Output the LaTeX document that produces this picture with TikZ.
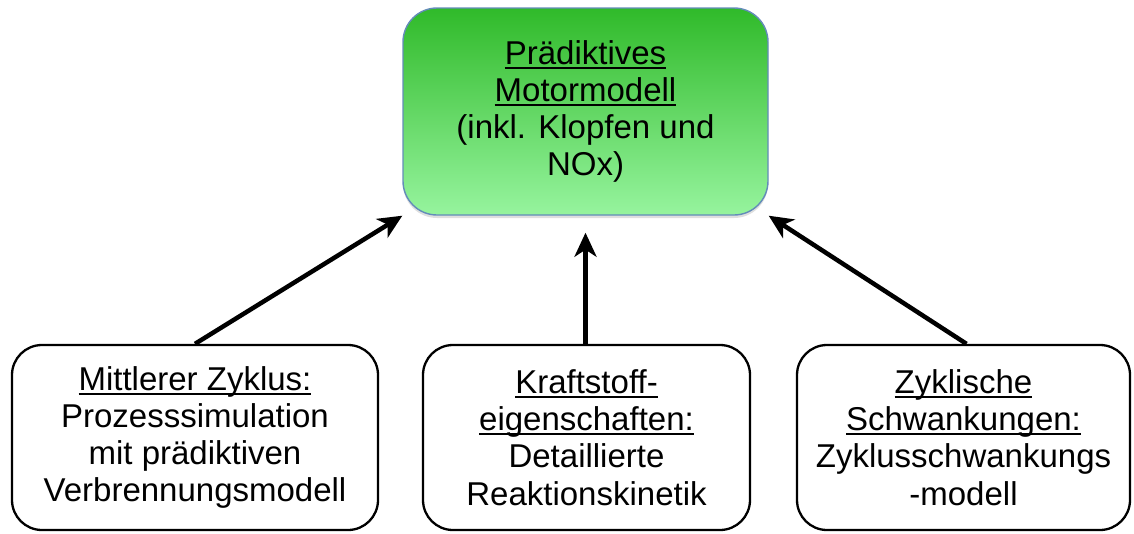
\documentclass[tikz,border=0pt]{standalone}
\usepackage{fontspec}
\setmainfont{Liberation Sans}
\usetikzlibrary{arrows.meta,shadows}
\definecolor{gtop}{RGB}{48,186,42}
\definecolor{gbot}{RGB}{150,244,158}
\definecolor{gborder}{RGB}{100,140,185}
\newcommand{\ulx}[1]{\setbox0=\hbox{#1}\rlap{\rule[-4.5pt]{\wd0}{1.8pt}}\box0}
\begin{document}
\begin{tikzpicture}[x=1pt,y=-1pt,
  txt/.style={align=center,font=\fontsize{33}{37.3}\selectfont,inner sep=0pt},
  lowbox/.style={txt,draw=black,line width=2.3pt,rounded corners=30pt,fill=white,minimum height=185pt},
  topbox/.style={txt,draw=gborder,line width=1.4pt,rounded corners=34pt,top color=gtop,bottom color=gbot,minimum width=365pt,minimum height=207pt,drop shadow={shadow xshift=0pt,shadow yshift=-3pt,opacity=0.25}},
  arr/.style={line width=4.5pt,-{Stealth[length=24pt,width=22pt,inset=7pt]}}]
\useasboundingbox (0,0) rectangle (1134,533);
\node[topbox] (top) at (585.5,111.5) {\ulx{Prädiktives}\\\ulx{Motormodell}\\(inkl. Klopfen und\\NOx)};
\node[lowbox,minimum width=366pt] (left) at (195,437.5) {\ulx{Mittlerer Zyklus:}\\Prozesssimulation\\mit prädiktiven\\Verbrennungsmodell};
\node[lowbox,minimum width=327pt] (mid) at (586.5,437.5) {\ulx{Kraftstoff-}\\\ulx{eigenschaften:}\\Detaillierte\\Reaktionskinetik};
\node[lowbox,minimum width=333pt] (right) at (963.5,437.5) {\ulx{Zyklische}\\\ulx{Schwankungen:}\\Zyklusschwankungs\\-modell};
\draw[arr] (left.north) -- (top.south west);
\draw[arr] (mid.north -| top.south) -- ([yshift=-17pt]top.south);
\draw[arr] ([xshift=3pt]right.north) -- (top.south east);
\end{tikzpicture}
\end{document}
